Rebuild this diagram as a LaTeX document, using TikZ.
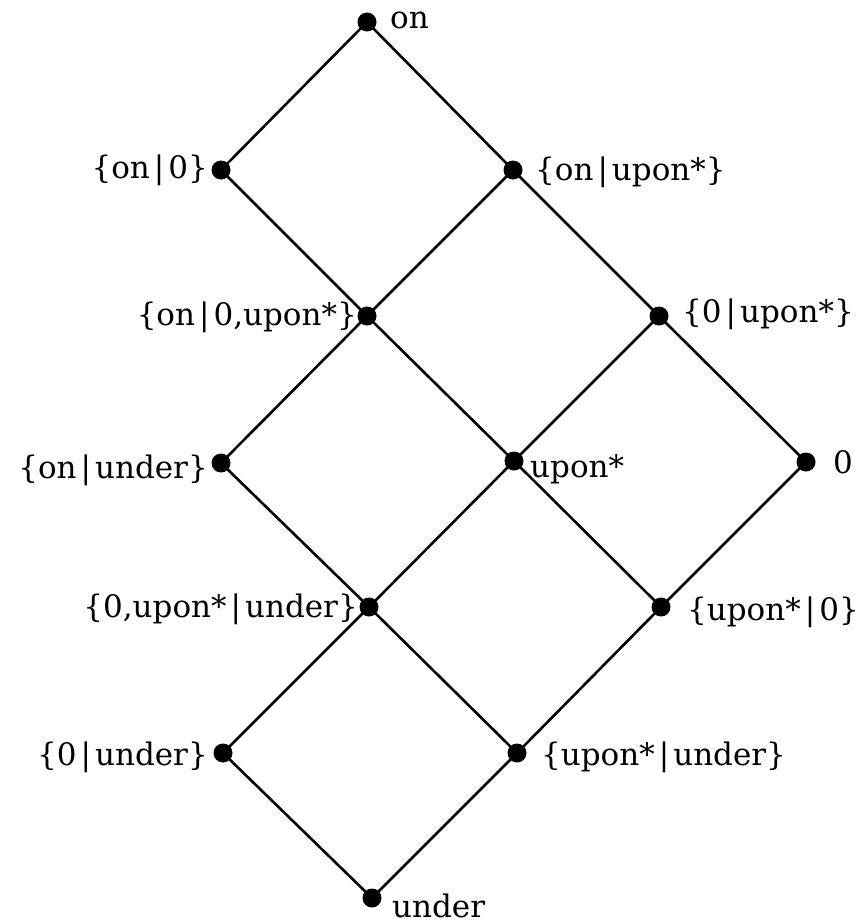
\documentclass[tikz,border=0pt]{standalone}
\usepackage{fontspec}
\setmainfont{DejaVu Serif}
\newcommand{\vb}{\hspace{4pt}|\hspace{4pt}}
\begin{document}
\begin{tikzpicture}[x=1pt,y=-1pt,
  dot/.style={circle,fill=black,inner sep=0pt,minimum size=19pt},
  lab/.style={font=\fontsize{31}{34}\selectfont,inner sep=0pt},
  edge/.style={line width=2.6pt}]
\useasboundingbox (0,0) rectangle (859,924);
\node[dot] (on) at (367,22) {};
\node[dot] (on0) at (221,170) {};
\node[dot] (onup) at (513,170) {};
\node[dot] (on0up) at (367,316) {};
\node[dot] (zup) at (659,316) {};
\node[dot] (onun) at (221,463) {};
\node[dot] (up) at (514,461) {};
\node[dot] (z) at (806,462) {};
\node[dot] (zupun) at (369,607) {};
\node[dot] (upz) at (661,607) {};
\node[dot] (zun) at (223,753) {};
\node[dot] (upun) at (517,753) {};
\node[dot] (un) at (372,898) {};
\foreach \a/\b in {on/on0,on/onup,on0/on0up,onup/on0up,onup/zup,on0up/onun,on0up/up,zup/up,zup/z,onun/zupun,up/zupun,up/upz,z/upz,zupun/zun,zupun/upun,upz/upun,zun/un,upun/un}
  \draw[edge] (\a.center) -- (\b.center);
\node[lab,anchor=base west] (lon) at (390,28) {on};
\node[lab,anchor=base east] (lon0) at (208,178) {\{on\vb 0\}};
\node[lab,anchor=base west] (lonup) at (535,180) {\{on\vb upon*\}};
\node[lab,anchor=base east] (lon0up) at (357,325) {\{on\vb 0,upon*\}};
\node[lab,anchor=base west] (lzup) at (682,322) {\{0\vb upon*\}};
\node[lab,anchor=base east] (lonun) at (208,478) {\{on\vb under\}};
\node[lab,anchor=base west] (lup) at (530,477) {upon*};
\node[lab,anchor=base west] (lz) at (833,473) {0};
\node[lab,anchor=base east] (lzupun) at (358,617) {\{0,upon*\vb under\}};
\node[lab,anchor=base west] (lupz) at (687,620) {\{upon*\vb 0\}};
\node[lab,anchor=base east] (lzun) at (208,765) {\{0\vb under\}};
\node[lab,anchor=base west] (lupun) at (541,765) {\{upon*\vb under\}};
\node[lab,anchor=base west] (lun) at (392,917) {under};
\end{tikzpicture}
\end{document}
